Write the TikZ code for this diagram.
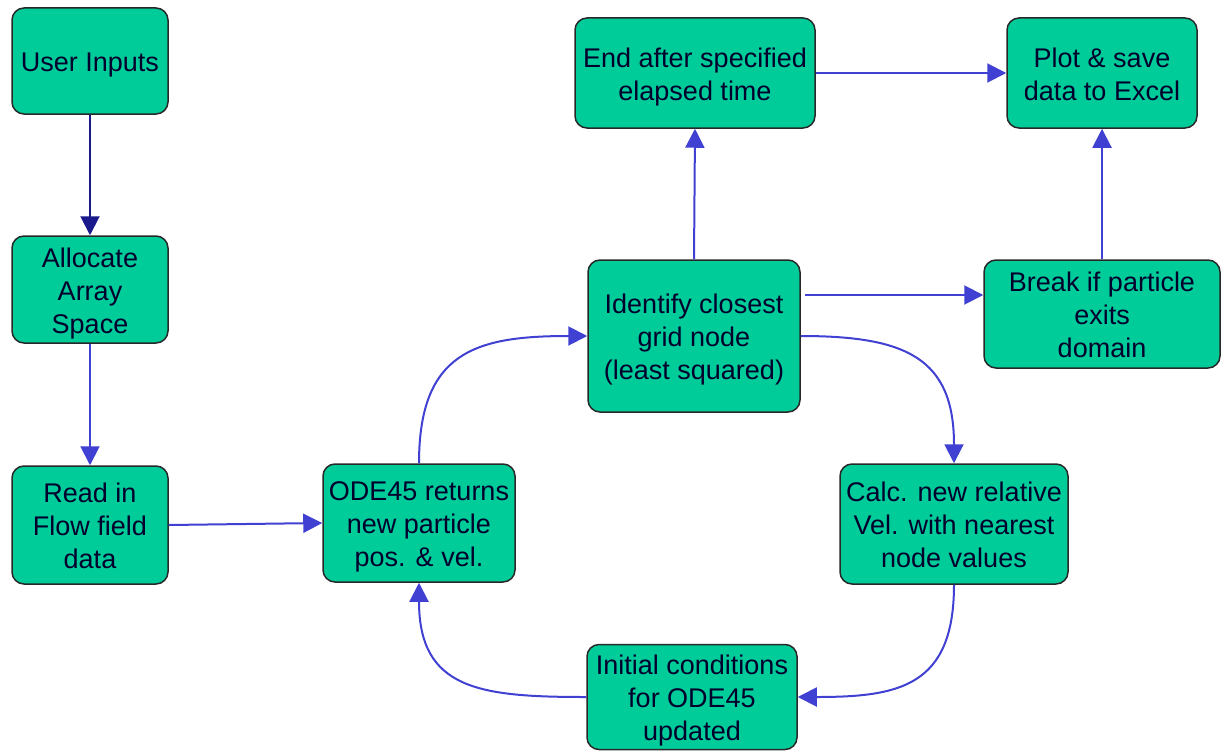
\documentclass[tikz,border=0pt]{standalone}
\usepackage{fontspec}
\setmainfont{Liberation Sans}
\usetikzlibrary{arrows.meta}
\definecolor{boxgreen}{RGB}{0,204,153}
\definecolor{boxedge}{RGB}{40,40,40}
\definecolor{txt}{RGB}{0,0,45}
\definecolor{arrowblue}{RGB}{64,64,210}
\definecolor{arrownavy}{RGB}{26,26,140}
\newcommand\bxt[1]{\raisebox{-4pt}[\height][\depth]{\begin{tabular}{@{}c@{}}#1\end{tabular}}}
\begin{document}
\begin{tikzpicture}[x=1pt,y=-1pt,
  box/.style={draw=boxedge, line width=1.5pt, fill=boxgreen, rounded corners=12pt,
    text=txt, font=\fontsize{27}{33}\selectfont, inner sep=0pt},
  conn/.style={draw=arrowblue, line width=2pt, -{Triangle[length=19pt,width=19pt]}},
  navyconn/.style={conn, draw=arrownavy},
]
\useasboundingbox (0,0) rectangle (1222,752);
\node[box, minimum width=156pt, minimum height=106pt] (user) at (90,61) {\bxt{User Inputs}};
\node[box, minimum width=156pt, minimum height=107pt] (alloc) at (90,289.5) {\bxt{Allocate\\Array\\Space}};
\node[box, minimum width=156pt, minimum height=118pt] (read) at (90,525) {\bxt{Read in\\Flow field\\data}};
\node[box, minimum width=192pt, minimum height=118pt] (ode) at (419,523) {\bxt{ODE45 returns\\new particle\\pos. \& vel.}};
\node[box, minimum width=212pt, minimum height=152pt] (ident) at (694,336) {\bxt{Identify closest\\grid node\\(least squared)}};
\node[box, minimum width=228pt, minimum height=120pt] (calc) at (954,524) {\bxt{Calc. new relative\\Vel. with nearest\\node values}};
\node[box, minimum width=210pt, minimum height=105pt] (init) at (692,697) {\bxt{Initial conditions\\for ODE45\\updated}};
\node[box, minimum width=240pt, minimum height=110pt] (endt) at (695,73) {\bxt{End after specified\\elapsed time}};
\node[box, minimum width=190pt, minimum height=110pt] (plot) at (1102,73) {\bxt{Plot \& save\\data to Excel}};
\node[box, minimum width=236pt, minimum height=108pt] (brk) at (1102,314) {\bxt{Break if particle\\exits\\domain}};

\draw[navyconn] (user) -- (alloc);
\draw[conn] (alloc) -- (read);
\draw[conn] (read.east) -- (ode.west);
\draw[conn] (ode.north) to[out=90,in=180,looseness=1.35] (ident.west);
\draw[conn] (ident.east) to[out=0,in=90,looseness=1.35] (calc.north);
\draw[conn] (calc.south) to[out=-90,in=0,looseness=1.35] (init.east);
\draw[conn] (init.west) to[out=180,in=-90,looseness=1.35] (ode.south);
\draw[conn] (ident.north) -- (endt.south);
\draw[conn] (endt.east) -- (plot.west);
\coordinate (ib) at (805,295);
\draw[conn] (ib) -- (ib -| brk.west);
\draw[conn] (brk.north) -- (plot.south);
\end{tikzpicture}
\end{document}
